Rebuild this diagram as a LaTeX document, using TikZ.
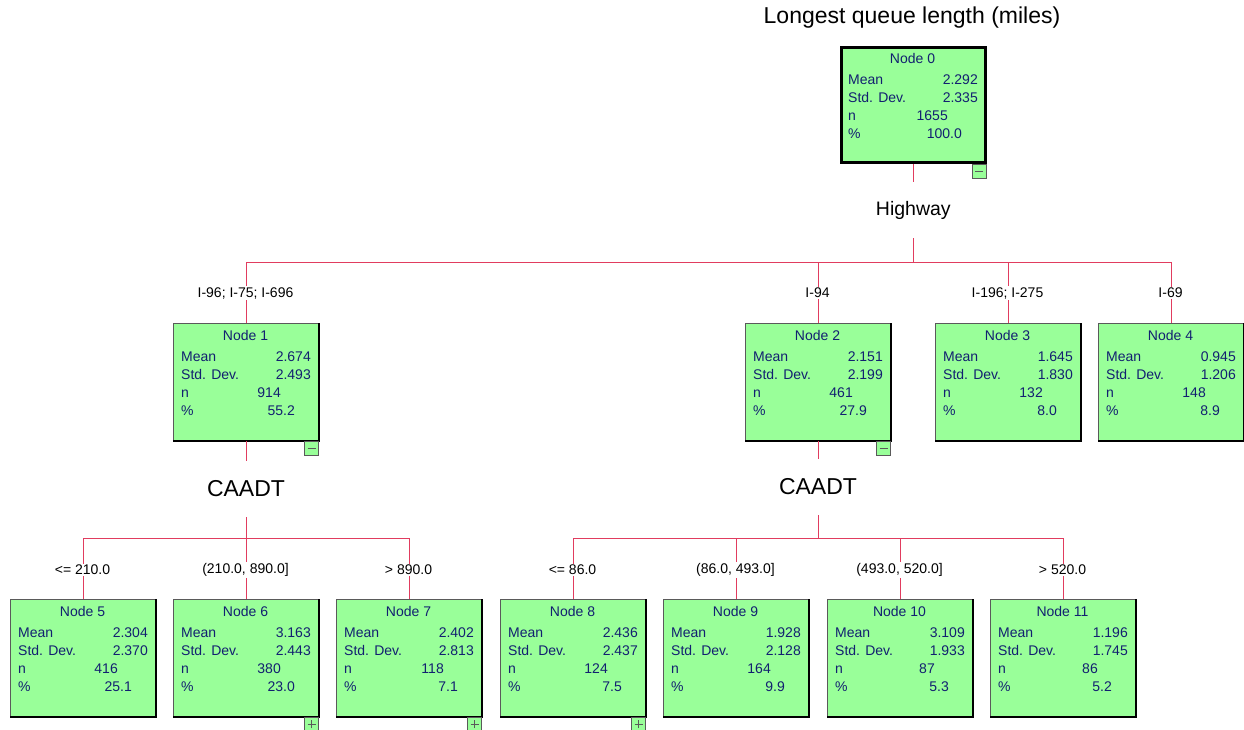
\documentclass[tikz,border=0pt]{standalone}
\usepackage{fontspec}
\setmainfont{Liberation Sans}
\definecolor{boxgreen}{RGB}{153,255,153}
\definecolor{txtblue}{RGB}{18,32,112}
\definecolor{linkred}{RGB}{225,60,95}
\definecolor{boxgray}{RGB}{90,90,90}
\tikzset{
  statbox/.style={draw=boxgray, line width=1pt, fill=boxgreen, minimum width=145pt,
    minimum height=117pt, anchor=north west, inner sep=0pt},
  rootbox/.style={statbox, draw=black, line width=2.6pt, minimum width=144pt, minimum height=115pt},
  stattxt/.style={text=txtblue, font=\fontsize{14}{16}\selectfont, inner sep=0pt},
  branchlbl/.style={fill=white, font=\fontsize{14}{16}\selectfont, inner sep=1.5pt},
  splitlbl/.style={minimum height=56pt, inner sep=0pt},
  link/.style={draw=linkred, line width=0.9pt},
  togglebox/.style={draw=boxgray, fill=boxgreen, minimum width=14pt, minimum height=14pt,
    inner sep=0pt, anchor=north east, line width=0.8pt},
  togglemark/.style={draw=boxgray, line width=0.9pt},
}
\newcommand\statnode[9]{% style, name, x, y, title, mean, sd, n, pct
  \node[#1] (#2) at (#3,#4) {};
  \node[stattxt, anchor=base] (#2-title) at ({#3+72.5},{#4+17}) {#5};
  \node[stattxt, anchor=base west] (#2-ml) at ({#3+8},{#4+38.5}) {Mean};
  \node[stattxt, anchor=base east] (#2-mv) at ({#3+138},{#4+38.5}) {#6};
  \node[stattxt, anchor=base west] (#2-sl) at ({#3+8},{#4+56.5}) {Std. Dev.};
  \node[stattxt, anchor=base east] (#2-sv) at ({#3+138},{#4+56.5}) {#7};
  \node[stattxt, anchor=base west] (#2-nl) at ({#3+8},{#4+74.5}) {n};
  \node[stattxt, anchor=base east] (#2-nv) at ({#3+108},{#4+74.5}) {#8};
  \node[stattxt, anchor=base west] (#2-pl) at ({#3+8},{#4+92.5}) {\%};
  \node[stattxt, anchor=base east] (#2-pv) at ({#3+122},{#4+92.5}) {#9};
}
\newcommand\shadowedge[1]{%
  \draw[black, line width=1.2pt] (#1.north east) -- (#1.south east) -- (#1.south west);
}
\newcommand\minusbox[1]{%
  \node[togglebox] (#1-tg) at (#1.south east) {};
  \draw[togglemark] ([xshift=-4pt]#1-tg.center) -- ([xshift=4pt]#1-tg.center);
}
\newcommand\plusbox[1]{%
  \node[togglebox] (#1-tg) at (#1.south east) {};
  \draw[togglemark] ([xshift=-4pt]#1-tg.center) -- ([xshift=4pt]#1-tg.center);
  \draw[togglemark] ([yshift=-4pt]#1-tg.center) -- ([yshift=4pt]#1-tg.center);
}
\begin{document}
\begin{tikzpicture}[x=1pt,y=-1pt]
\useasboundingbox[fill=white] (0,0) rectangle (1244,729);

% title
\node[font=\fontsize{23}{26}\selectfont, inner sep=0pt] (title) at (912,18) {Longest queue length (miles)};

% boxes
\statnode{rootbox}{n0}{840}{46.3}{Node 0}{2.292}{2.335}{1655}{100.0}
\statnode{statbox}{n1}{173}{323}{Node 1}{2.674}{2.493}{914}{55.2}
\statnode{statbox}{n2}{745}{323}{Node 2}{2.151}{2.199}{461}{27.9}
\statnode{statbox}{n3}{935}{323}{Node 3}{1.645}{1.830}{132}{8.0}
\statnode{statbox}{n4}{1098}{323}{Node 4}{0.945}{1.206}{148}{8.9}
\statnode{statbox}{n5}{10}{599}{Node 5}{2.304}{2.370}{416}{25.1}
\statnode{statbox}{n6}{173}{599}{Node 6}{3.163}{2.443}{380}{23.0}
\statnode{statbox}{n7}{336}{599}{Node 7}{2.402}{2.813}{118}{7.1}
\statnode{statbox}{n8}{500}{599}{Node 8}{2.436}{2.437}{124}{7.5}
\statnode{statbox}{n9}{663}{599}{Node 9}{1.928}{2.128}{164}{9.9}
\statnode{statbox}{n10}{827}{599}{Node 10}{3.109}{1.933}{87}{5.3}
\statnode{statbox}{n11}{990}{599}{Node 11}{1.196}{1.745}{86}{5.2}
\foreach \b in {n1,n2,n3,n4,n5,n6,n7,n8,n9,n10,n11} {\shadowedge{\b}}

% toggles
\minusbox{n0}
\minusbox{n1}
\minusbox{n2}
\plusbox{n6}
\plusbox{n7}
\plusbox{n8}

% split variables
\node[splitlbl, font=\fontsize{19.5}{22}\selectfont] (hw) at (n0.south |- 913,210) {Highway};
\node[splitlbl, font=\fontsize{23}{26}\selectfont] (s1) at (n1.south |- 245.5,489) {CAADT};
\node[splitlbl, font=\fontsize{23}{26}\selectfont] (s2) at (n2.south |- 817.5,487) {CAADT};
\coordinate (hwbar) at (hw.south |- 913,262);
\coordinate (s1bar) at (s1.south |- 245.5,538);
\coordinate (s2bar) at (s2.south |- 817.5,538);

% connectors
\draw[link] (n0.south) -- (hw.north);
\draw[link] (hw.south) -- (hwbar);
\foreach \c in {n1,n2,n3,n4} {\draw[link] (hwbar) -| (\c.north);}
\draw[link] (n1.south) -- (s1.north);
\draw[link] (s1.south) -- (s1bar);
\foreach \c in {n5,n6,n7} {\draw[link] (s1bar) -| (\c.north);}
\draw[link] (n2.south) -- (s2.north);
\draw[link] (s2.south) -- (s2bar);
\foreach \c in {n8,n9,n10,n11} {\draw[link] (s2bar) -| (\c.north);}

% branch labels
\node[branchlbl] (b1) at (245.5,293) {I-96; I-75; I-696};
\node[branchlbl] (b2) at (817.5,293) {I-94};
\node[branchlbl] (b3) at (1007.5,293) {I-196; I-275};
\node[branchlbl] (b4) at (1170.5,293) {I-69};
\node[branchlbl] (b5) at (82.5,570) {<= 210.0};
\node[branchlbl] (b6) at (245.5,570) {(210.0, 890.0]};
\node[branchlbl] (b7) at (408.5,570) {> 890.0};
\node[branchlbl] (b8) at (572.5,570) {<= 86.0};
\node[branchlbl] (b9) at (735.5,570) {(86.0, 493.0]};
\node[branchlbl] (b10) at (899.5,570) {(493.0, 520.0]};
\node[branchlbl] (b11) at (1062.5,570) {> 520.0};
\end{tikzpicture}
\end{document}
